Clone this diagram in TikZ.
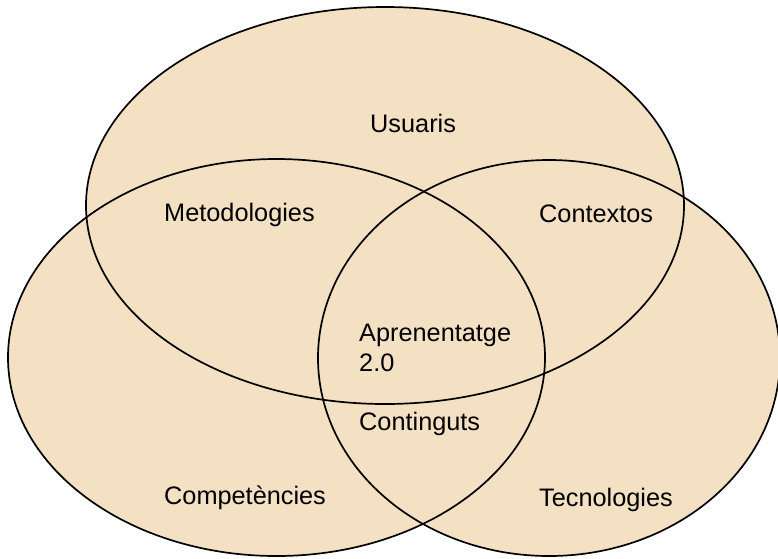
\documentclass[tikz,border=0pt]{standalone}
\usepackage{fontspec}
\setmainfont{Liberation Sans}
\definecolor{vennfill}{HTML}{F4E1C3}
\tikzset{
  venn/.style={fill=vennfill},
  vennline/.style={draw=black,line width=1.7pt},
  lbl/.style={anchor=base west,inner sep=0pt,font=\fontsize{25.3}{30}\selectfont}
}
\begin{document}
\begin{tikzpicture}[x=1pt,y=-1pt]
\useasboundingbox (0,0) rectangle (778,558);
% fills
\fill[venn] (385,205.5) ellipse [x radius=299, y radius=198.5];
\fill[venn] (276.5,357.5) ellipse [x radius=268.5, y radius=198.5];
\fill[venn] (549,358) ellipse [x radius=231, y radius=198];
% outlines
\draw[vennline] (385,205.5) ellipse [x radius=299, y radius=198.5];
\draw[vennline] (276.5,357.5) ellipse [x radius=268.5, y radius=198.5];
\draw[vennline] (549,358) ellipse [x radius=231, y radius=198];
% labels
\node[lbl] (usu) at (370,132) {Usuaris};
\node[lbl] (met) at (164,221) {Metodologies};
\node[lbl] (con) at (539,222) {Contextos};
\node[lbl] (apr1) at (359,341) {Aprenentatge};
\node[lbl] (apr2) at (359,371) {2.0};
\node[lbl] (cont) at (359,430) {Continguts};
\node[lbl] (comp) at (164,504) {Competències};
\node[lbl] (tec) at (539,506) {Tecnologies};
\end{tikzpicture}
\end{document}
